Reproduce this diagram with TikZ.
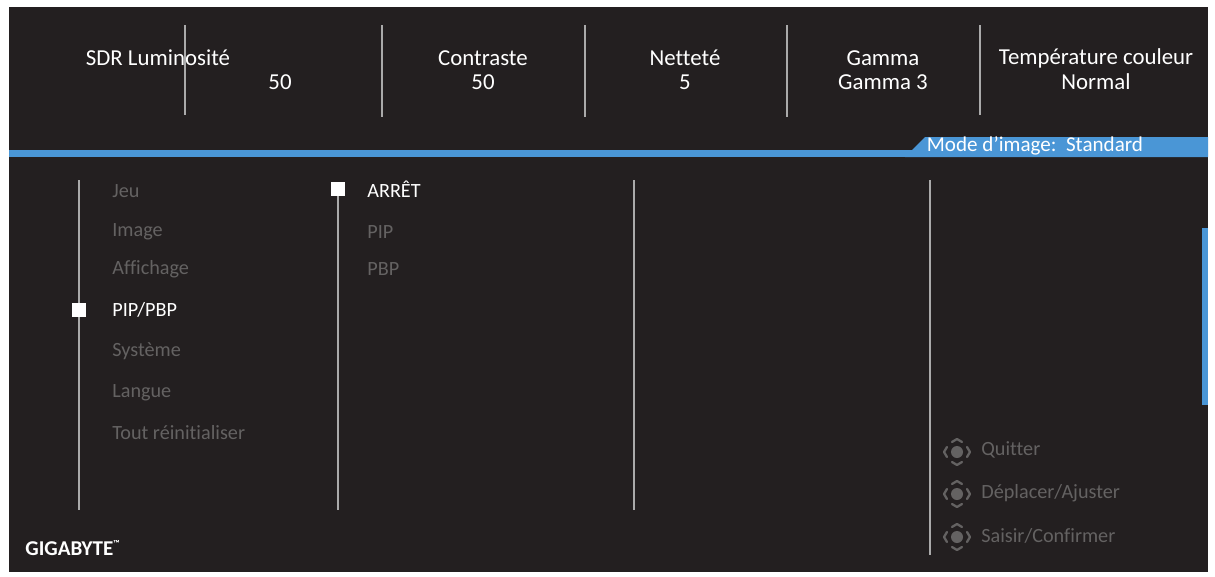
\documentclass[tikz,border=0pt]{standalone}
\usepackage{fontspec}
\setmainfont[Ligatures={NoCommon}]{Carlito}
\usetikzlibrary{positioning}
\definecolor{osdbg}{RGB}{35,31,32}
\definecolor{osdblue}{RGB}{74,150,214}
\definecolor{osdgrey}{RGB}{100,98,98}
\definecolor{osdline}{RGB}{170,170,170}
\begin{document}
\begin{tikzpicture}
[
x=0.02cm, y=-0.02cm,
label-a/.style={text=white, font=\fontsize{13}{15}\selectfont, inner sep=0pt},
item-a/.style={text=osdgrey, font=\fontsize{11.5}{13}\selectfont, anchor=west, inner sep=0pt},
item-b/.style={item-a, text=white},
divider/.style={draw=osdline, line width=1.2pt},
mark-a/.style={fill=white, minimum size=8pt, inner sep=0pt},
chev/.style={line width=1.3pt, line cap=round, line join=round}
]
\useasboundingbox (0,0) rectangle (1215,576);
\fill[white] (0,0) rectangle (1215,576);
\fill[osdbg] (9,7) rectangle (1208,572);
% top settings
\node (bright)   [label-a] at (158,58)  {SDR Luminosité};
\node (bright-v) [label-a] at (280,82)  {50};
\node (contr)    [label-a] at (483,58)  {Contraste};
\node (contr-v)  [label-a] at (483,82)  {50};
\node (sharp)    [label-a] at (685,58)  {Netteté};
\node (sharp-v)  [label-a] at (685,82)  {5};
\node (gamma)    [label-a] at (883,58)  {Gamma};
\node (gamma-v)  [label-a] at (883,82)  {Gamma 3};
\node (temp)     [label-a] at (1096,58) {Température couleur};
\node (temp-v)   [label-a] at (1096,82) {Normal};
\draw[divider] (185,25) -- (185,115);
\draw[divider] (382,25) -- (382,117);
\draw[divider] (585,25) -- (585,117);
\draw[divider] (787,25) -- (787,117);
\draw[divider] (980,25) -- (980,115);
% blue band
\fill[osdblue] (9,150) rectangle (1208,157);
\fill[osdblue] (905,157) -- (925,137) -- (1208,137) -- (1208,157) -- cycle;
\node (mode) [label-a, font=\fontsize{12}{13}\selectfont] at (1035,146) {Mode d’image:\ \ Standard};
% menu columns
\draw[divider] (79,180) -- (79,510);
\draw[divider] (338,195) -- (338,510);
\draw[divider] (634,180) -- (634,510);
\draw[divider] (930,180) -- (930,555);
\node (jeu)   [item-a] at (112,191) {Jeu};
\node (image) [item-a] at (112,232) {Image};
\node (aff)   [item-a] at (112,269) {Affichage};
\node (pip)   [item-b] at (112,310) {PIP/PBP};
\node (sys)   [item-a] at (112,351) {Système};
\node (lang)  [item-a] at (112,393) {Langue};
\node (reset) [item-a] at (112,433) {Tout réinitialiser};
\node (pip-mark) [mark-a] at (79,310) {};
\node (off)   [item-b] at (367,189) {ARRÊT};
\node (sub-pip) [item-a] at (367,232) {PIP};
\node (sub-pbp) [item-a] at (367,269) {PBP};
\node (off-mark) [mark-a] at (338,189) {};
% scroll bar
\fill[osdblue] (1202,228) rectangle (1208,405);
% key hints
\foreach \yy/\hl in {452/l, 494/v, 537/c} {
  \fill[osdgrey] (957,\yy) circle (6);
  \ifx\hl c\fill[white] (957,\yy) circle (6);\fi
  \draw[chev, osdgrey] (947,\yy-5) -- (944,\yy) -- (947,\yy+5);
  \draw[chev, osdgrey] (967,\yy-5) -- (970,\yy) -- (967,\yy+5);
  \draw[chev, osdgrey] (952,\yy-10) -- (957,\yy-13) -- (962,\yy-10);
  \draw[chev, osdgrey] (952,\yy+10) -- (957,\yy+13) -- (962,\yy+10);
  \ifx\hl l\draw[chev, white] (947,\yy-5) -- (944,\yy) -- (947,\yy+5);\fi
  \ifx\hl v
    \draw[chev, white] (952,\yy-10) -- (957,\yy-13) -- (962,\yy-10);
    \draw[chev, white] (952,\yy+10) -- (957,\yy+13) -- (962,\yy+10);
  \fi
  \ifx\hl c
    \draw[chev, white] (947,\yy-5) -- (944,\yy) -- (947,\yy+5);
    \draw[chev, white] (967,\yy-5) -- (970,\yy) -- (967,\yy+5);
  \fi
}
\node (quit)  [item-a] at (981,450) {Quitter};
\node (move)  [item-a] at (981,493) {Déplacer/Ajuster};
\node (enter) [item-a] at (981,536) {Saisir/Confirmer};
% logo
\node (logo) [anchor=west, text=white, inner sep=0pt, font=\fontsize{12}{13}\selectfont\bfseries] at (25,548) {GIGABYTE\raisebox{0.6ex}{\tiny\textsuperscript{™}}};
\end{tikzpicture}
\end{document}
